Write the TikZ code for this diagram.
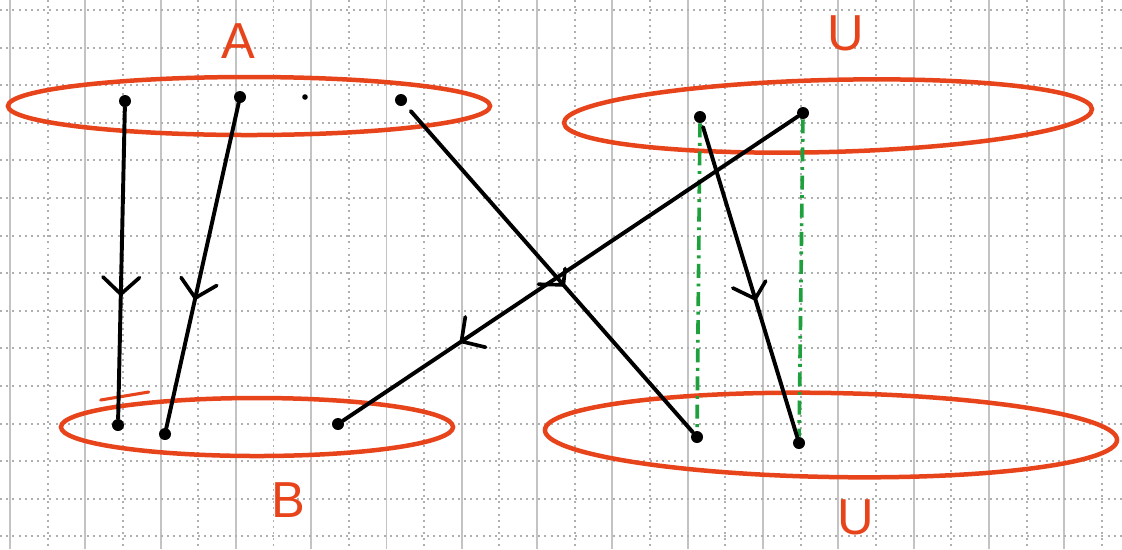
\documentclass[tikz,border=0pt]{standalone}
\usepackage{fontspec}
\setmainfont{Liberation Sans}
\usetikzlibrary{decorations.markings,shapes.geometric}
\definecolor{marker}{RGB}{232,68,28}
\definecolor{dashgreen}{RGB}{30,160,60}
\definecolor{gridsolid}{RGB}{195,195,195}
\definecolor{griddot}{RGB}{175,175,175}
\begin{document}
\begin{tikzpicture}[x=0.025cm,y=-0.025cm,
  setline/.style={draw=marker, line width=3.2pt, ellipse, inner sep=0pt},
  pt/.style={circle, fill=black, inner sep=0pt, minimum size=0.3cm},
  smallpt/.style={circle, fill=black, inner sep=0pt, minimum size=0.14cm},
  edge/.style={line width=2.8pt, black, line cap=round},
  onearrow/.style={postaction={decorate}, decoration={markings,
     mark=at position #1 with {\draw[line width=2.6pt, line cap=round, line join=round, solid]
        (-12pt,13pt) -- (0pt,0pt) -- (-12pt,-13pt);}}},
  guide/.style={draw=dashgreen, line width=2.6pt, dash pattern=on 10pt off 4pt on 2pt off 4pt},
  lbl/.style={text=marker, font=\fontsize{36}{36}\selectfont, inner sep=0pt},
  gsolid/.style={draw=gridsolid, line width=1.4pt},
  gdot/.style={draw=griddot, line width=1.4pt, dash pattern=on 1.4pt off 3pt}]
\useasboundingbox (0,0) rectangle (1122,549);
\fill[white] (0,0) rectangle (1122,549);
% grid paper
\foreach \k in {0,...,14} {
  \draw[gsolid] ({10+75.3*\k},0) -- ({10+75.3*\k},549);
  \draw[gdot] ({47.6+75.3*\k},0) -- ({47.6+75.3*\k},549);
}
\foreach \k in {0,...,14} {
  \draw[gdot] (0,{10+37.6*\k}) -- (1122,{10+37.6*\k});
}
% sets
\node[setline, minimum width=12.05cm, minimum height=1.45cm] (setA) at (249,106) {};
\node[setline, minimum width=13.2cm, minimum height=1.8cm, rotate=1.5] (setU1) at (828,116) {};
\node[setline, minimum width=9.8cm, minimum height=1.45cm] (setB) at (257,427) {};
\node[setline, minimum width=14.3cm, minimum height=2.1cm, rotate=-1] (setU2) at (831,435) {};
% labels
\node[lbl] (labA) at (238,41) {A};
\node[lbl] (labU1) at (846,33) {U};
\node[lbl] (labB) at (288,500) {B};
\node[lbl] (labU2) at (856,517) {U};
% small red strokes near B
\draw[marker, line width=2.2pt, line cap=round] (setB.west) ++(42,-27) coordinate (s1) -- ++(48,-8) coordinate (s2);
% points
\node[pt] (a1) at (125,101) {};
\node[pt] (a2) at (240,97) {};
\node[smallpt] (a0) at (305,97) {};
\node[pt] (a3) at (401,100) {};
\node[pt] (b1) at (118,425) {};
\node[pt] (b2) at (165,434) {};
\node[pt] (b3) at (338,424) {};
\node[pt] (u1) at (700,117) {};
\node[pt] (u2) at (803,113) {};
\node[pt] (v1) at (697,437) {};
\node[pt] (v2) at (799,443) {};
% green guides
\draw[guide] (u1) -- (v1);
\draw[guide] (u2) -- (v2);
% maps
\draw[edge, onearrow=0.6] (a1) -- (b1);
\draw[edge, onearrow=0.6] (a2) -- (b2);
\draw[edge, onearrow=0.55, shorten <=6pt] (a3) -- (v1);
\draw[edge, onearrow=0.74] (u2) -- (b3);
\draw[edge, onearrow=0.56, shorten <=3pt] (u1) -- (v2);
\end{tikzpicture}
\end{document}
